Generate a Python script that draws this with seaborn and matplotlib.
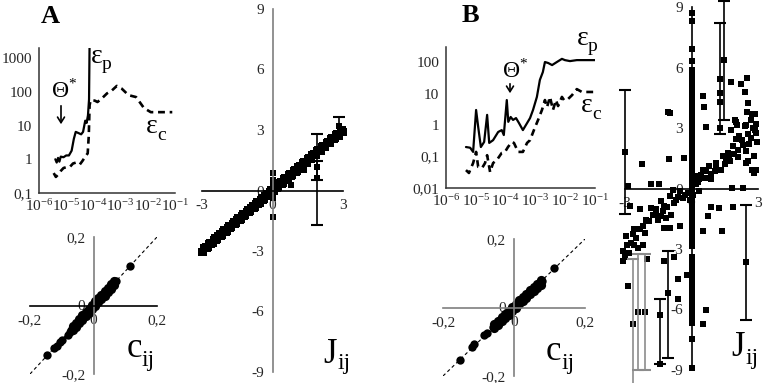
import numpy as np
import pandas as pd
import matplotlib
matplotlib.use("Agg")
import matplotlib.pyplot as plt
from matplotlib import font_manager as fm
import seaborn as sns

W, H = 763, 383

# ---------------- data ----------------
# Panel A, top: reconstruction errors vs threshold (log10 of threshold)
epA_logx = [-5.40, -5.35, -5.30, -5.25, -5.20, -5.10, -5.00, -4.90, -4.80, -4.72,
            -4.65, -4.55, -4.45, -4.38, -4.30, -4.25, -4.20, -4.16, -4.14]
epA = [1.0, 0.8, 1.1, 0.85, 1.2, 1.15, 1.3, 1.3, 1.8, 4.0,
       6.5, 6.0, 5.5, 6.5, 14, 12, 20, 60, 3000]
ecA_logx = [-5.46, -5.38, -5.30, -5.20, -5.10, -4.95, -4.86, -4.75, -4.64, -4.50,
            -4.40, -4.30, -4.21, -4.17, -4.14, -4.10, -3.95, -3.85, -3.68, -3.50,
            -3.32, -3.14, -2.96, -2.71, -2.43, -2.14, -1.89, -1.54, -1.10]
ecA = [0.39, 0.30, 0.35, 0.45, 0.55, 0.6, 0.6, 0.75, 0.8, 0.7,
       0.9, 1.2, 1.5, 5, 40, 57, 55, 50, 65, 90,
       110, 150, 125, 80, 70, 33, 25, 25, 25]

# Panel B, top
epB_logx = [-5.33, -5.19, -5.09, -4.99, -4.92, -4.83, -4.72, -4.62, -4.55, -4.42,
            -4.25, -4.13, -4.06, -3.96, -3.91, -3.83, -3.75, -3.65, -3.55, -3.42,
            -3.28, -3.18, -3.08, -2.95, -2.85, -2.75, -2.68, -2.57, -2.44, -2.28,
            -2.11, -2.01, -1.84, -1.61, -1.34, -1.00]
epB = [0.20, 0.19, 0.14, 3.0, 0.87, 0.20, 0.29, 2.1, 0.27, 0.33,
       0.60, 0.69, 0.48, 6.2, 1.26, 1.8, 1.45, 1.66, 1.15, 0.69,
       1.15, 1.66, 3.0, 7.8, 27, 48, 100, 93, 80, 100,
       126, 115, 107, 115, 115, 115]
ecB_logx = [-5.33, -5.23, -5.09, -4.99, -4.92, -4.79, -4.69, -4.62, -4.52, -4.42,
            -4.29, -4.13, -4.02, -3.92, -3.79, -3.72, -3.58, -3.42, -3.28, -3.18,
            -3.05, -2.91, -2.78, -2.68, -2.61, -2.51, -2.41, -2.31, -2.24, -2.11,
            -2.04, -1.94, -1.77, -1.61, -1.44, -1.27, -1.00]
ecB = [0.037, 0.030, 0.062, 0.14, 0.047, 0.043, 0.062, 0.11, 0.032, 0.062,
       0.078, 0.13, 0.14, 0.20, 0.29, 0.27, 0.14, 0.14, 0.27, 0.33,
       0.69, 1.45, 3.0, 6.2, 3.7, 7.8, 3.0, 6.2, 4.0, 7.8,
       6.2, 6.2, 8.9, 13.8, 11.2, 11.2, 11.2]

# Panel A, J_ij scatter (inferred vs true couplings)
jA_x = [-3.0, -2.9, -2.8, -2.7, -2.6, -2.5, -2.4, -2.3, -2.2, -2.1,
        -2.0, -1.9, -1.8, -1.7, -1.6, -1.5, -1.4, -1.3, -1.2, -1.1,
        -1.0, -0.9, -0.8, -0.7, -0.6, -0.5, -0.4, -0.3, -0.2, -0.1,
        0.0, 0.1, 0.2, 0.3, 0.4, 0.5, 0.6, 0.7, 0.8, 0.9,
        1.0, 1.1, 1.2, 1.3, 1.4, 1.5, 1.6, 1.7, 1.8, 1.9,
        2.0, 2.1, 2.2, 2.3, 2.4, 2.5, 2.6, 2.7, 2.8, 2.9,
        3.0]
jA_y = [-3.05, -2.86, -2.85, -2.66, -2.65, -2.45, -2.46, -2.25, -2.26, -2.05,
        -2.06, -1.85, -1.86, -1.65, -1.66, -1.45, -1.46, -1.25, -1.26, -1.05,
        -1.06, -0.85, -0.86, -0.65, -0.66, -0.45, -0.46, -0.25, -0.26, -0.05,
        0.04, 0.15, 0.14, 0.35, 0.34, 0.55, 0.54, 0.75, 0.74, 0.95,
        0.94, 1.15, 1.14, 1.35, 1.34, 1.55, 1.54, 1.75, 1.74, 1.95,
        1.94, 2.15, 2.14, 2.35, 2.34, 2.55, 2.54, 2.75, 2.74, 2.95,
        2.92]
jA2_x = [-2.95, -2.85, -2.75, -2.65, -2.55, -2.45, -2.35, -2.25, -2.15, -2.05,
         -1.95, -1.85, -1.75, -1.65, -1.55, -1.45, -1.35, -1.25, -1.15, -1.05,
         -0.95, -0.85, -0.75, -0.65, -0.55, -0.45, -0.35, -0.25, -0.15, -0.05,
         0.05, 0.15, 0.25, 0.35, 0.45, 0.55, 0.65, 0.75, 0.85, 0.95,
         1.05, 1.15, 1.25, 1.35, 1.45, 1.55, 1.65, 1.75, 1.85, 1.95,
         2.05, 2.15, 2.25, 2.35, 2.45, 2.55, 2.65, 2.75, 2.85, 2.95]
jA2_y = [-3.03, -2.80, -2.82, -2.59, -2.62, -2.38, -2.42, -2.18, -2.22, -1.98,
         -2.02, -1.78, -1.82, -1.58, -1.62, -1.38, -1.42, -1.18, -1.22, -0.98,
         -1.02, -0.78, -0.82, -0.58, -0.62, -0.38, -0.42, -0.18, -0.22, 0.02,
         -0.02, 0.22, 0.18, 0.42, 0.38, 0.62, 0.58, 0.82, 0.78, 1.02,
         0.98, 1.22, 1.18, 1.42, 1.38, 1.62, 1.58, 1.82, 1.78, 2.02,
         1.98, 2.22, 2.18, 2.42, 2.38, 2.62, 2.58, 2.82, 2.78, 2.98]
jA_out_x = [0.0, 0.0, 0.0, 0.0, 0.0, 0.79, 1.33, 1.9, 1.9, 2.82, 3.03, 2.87]
jA_out_y = [0.86, 0.53, 0.3, -0.35, -1.32, 0.28, 1.02, 1.16, 0.63, 3.22, 2.94, 2.64]
jA_err_x = [1.9, 1.9, 2.82]
jA_err_y = [0.63, 1.16, 3.22]
jA_err_lo = [-1.7, 0.53, 2.8]
jA_err_hi = [2.78, 1.45, 3.64]

# Panel A, c_ij scatter
cA_x = [-0.075, -0.07, -0.065, -0.06, -0.055, -0.05, -0.045, -0.04, -0.035, -0.03,
        -0.025, -0.02, -0.015, -0.01, -0.005, 0.0, 0.005, 0.01, 0.015, 0.02,
        0.025, 0.03, 0.035, 0.04, 0.045, 0.05, 0.055, 0.06, 0.065, 0.07,
        0.114, -0.08, -0.098, -0.106, -0.116, -0.125, -0.146]
cA_y = [-0.078, -0.072, -0.068, -0.062, -0.057, -0.052, -0.047, -0.041, -0.036, -0.031,
        -0.026, -0.021, -0.016, -0.010, -0.005, 0.0, 0.005, 0.011, 0.016, 0.021,
        0.026, 0.032, 0.037, 0.042, 0.047, 0.052, 0.057, 0.062, 0.067, 0.072,
        0.115, -0.085, -0.100, -0.106, -0.117, -0.125, -0.144]
cA_band_x = [-0.065, -0.055, -0.045, -0.035, -0.025, -0.015, -0.005,
             0.005, 0.015, 0.025, 0.035, 0.045, 0.055, 0.065]
cA_band_hi = [-0.060, -0.050, -0.040, -0.029, -0.019, -0.009, 0.002,
              0.012, 0.022, 0.032, 0.042, 0.052, 0.062, 0.071]
cA_band_lo = [-0.072, -0.062, -0.052, -0.041, -0.031, -0.021, -0.011,
              -0.001, 0.009, 0.019, 0.029, 0.039, 0.049, 0.059]

# Panel B, c_ij scatter
cB_x = [-0.06, -0.055, -0.05, -0.045, -0.04, -0.035, -0.03, -0.025, -0.02, -0.015,
        -0.01, -0.005, 0.0, 0.005, 0.01, 0.015, 0.02, 0.025, 0.03, 0.035,
        0.04, 0.045, 0.05, 0.055, 0.06, 0.065, 0.07, 0.075, 0.08,
        0.113, -0.076, -0.085, -0.112, -0.118, -0.152]
cB_y = [-0.056, -0.052, -0.047, -0.043, -0.038, -0.033, -0.028, -0.024, -0.019, -0.014,
        -0.009, -0.005, 0.0, 0.005, 0.010, 0.015, 0.019, 0.024, 0.029, 0.034,
        0.039, 0.044, 0.049, 0.054, 0.058, 0.063, 0.068, 0.073, 0.078,
        0.114, -0.074, -0.081, -0.108, -0.114, -0.152]
cB_band_x = [-0.055, -0.045, -0.035, -0.025, -0.015, -0.005, 0.005,
             0.015, 0.025, 0.035, 0.045, 0.055, 0.065, 0.075]
cB_band_hi = [-0.047, -0.038, -0.028, -0.018, -0.009, 0.001, 0.011,
              0.021, 0.030, 0.040, 0.050, 0.059, 0.069, 0.079]
cB_band_lo = [-0.059, -0.050, -0.040, -0.030, -0.021, -0.011, -0.001,
              0.009, 0.018, 0.028, 0.038, 0.047, 0.057, 0.067]

# Panel B, J_ij scatter
jB_x = [-1.08, -0.95, 0.5, 0.55, 0.66, 1.8, 2.25, 2.5, 2.4, 2.57,
        2.5, 2.75, 2.88, 2.7, 1.98, 2.43, 2.07, 2.93, 1.3, 1.3,
        1.3, 1.45, -3.0, -2.24, -1.02, -0.32, 1.3, 1.79, 2.0, 2.46,
        2.76, 2.91, 2.16, 2.54, 2.0, 1.86, 2.31, 1.64, 2.46, 1.41,
        1.11, 1.56, 1.34, 1.04, 0.89, 0.66, 0.81, 0.44, 0.36, 0.21,
        2.54, 2.73, 2.84, 2.46, 1.83, 2.34, -2.87, -1.82, -1.47, -0.84,
        -0.54, -0.39, -0.69, -0.99, -1.37, -1.22, -1.59, -1.82, -1.74, -1.52,
        -1.37, -1.14, -0.92, -0.54, -1.22, -0.99, -2.04, -2.19, -2.34, -2.64,
        -2.94, -2.49, -2.72, -2.19, -2.42, -2.79, -2.34, 0.89, 1.26, 1.86,
        0.74, 0.51, 1.38, 0.36, 0.06, -0.09, -0.17, 0.14, 0.21, 0.51,
        -0.3, -0.6, -0.8, -1.1, -1.3, -1.6, -1.9, -2.1, -2.6, -2.9,
        -3.1, -3.0, -2.8, -3.1, -2.6, 0.3, 0.6, 0.9, 1.1, 1.5,
        1.7, 1.9, 2.1, 2.3, 2.6, 2.7, 2.85, 2.95, 2.8, 2.9,
        2.1, 1.75, -2.87, -1.22, -0.81, -0.62, -0.62, -0.21, 0.66, 0.54,
        -2.0, -2.64, -2.42, -2.12, -1.40, -1.40, -1.07, 2.48]
jB_y = [3.8, 3.75, 4.6, 4.05, 3.07, 5.3, 5.2, 5.5, 4.8, 4.25,
        3.8, 3.7, 3.67, 3.4, 3.4, 3.1, 3.17, 3.2, 5.45, 4.75,
        4.3, 6.35, 1.82, 1.22, 1.44, 1.49, 3.0, 2.9, 3.3, 3.17,
        3.0, 2.76, 2.6, 2.68, 2.43, 2.1, 2.18, 1.77, 1.85, 1.6,
        1.27, 1.36, 0.94, 0.86, 0.45, 0.86, 1.1, 0.69, 0.45, 0.2,
        1.36, 0.94, 0.78, 1.27, 0.03, 0.03, 0.12, 0.2, 0.23, -0.05,
        -0.13, -0.46, -0.55, -0.38, -0.63, -0.88, -1.04, -0.96, -1.29, -1.54,
        -1.37, -1.45, -1.29, -1.87, -1.95, -1.95, -1.54, -1.87, -2.03, -2.28,
        -2.36, -2.45, -2.69, -2.78, -2.94, -0.88, -1.0, -0.91, -0.96, -0.91,
        -1.37, -2.12, -2.12, -0.13, -0.3, -0.55, -0.21, 0.36, 0.61, 0.94,
        -0.3, -0.4, -0.7, -0.9, -1.1, -1.3, -1.6, -2.2, -2.0, -2.8,
        -3.1, -3.4, -3.2, -3.6, -2.8, 0.3, 0.5, 0.7, 1.0, 1.2,
        1.5, 1.7, 1.9, 2.4, 2.2, 2.5, 2.9, 2.3, 1.6, 0.9,
        1.55, 1.35, -4.84, -3.6, -3.39, -4.48, -5.5, -4.27, -6.0, -6.74,
        -3.52, -6.71, -6.13, -6.13, -6.25, -8.68, -5.2, -3.65]
jB_col_y = [8.7, 8.3, 6.9, 6.3, 5.9, 5.65, 5.4, 5.15, 4.9, 4.65,
            4.4, 4.15, 3.9, 3.65, 3.4, 3.15, 2.9, 2.65, 2.4, 2.15,
            1.9, 1.65, 1.4, 1.15, 0.9, 0.65, 0.4, 0.15, -0.1, -0.35,
            -0.6, -0.85, -1.1, -1.35, -1.6, -1.85, -2.1, -2.35, -2.6, -2.85,
            -3.4, -3.65, -3.9, -4.15, -4.4, -4.65, -4.9, -5.15, -5.4, -5.65,
            -5.9, -6.15, -6.4, -6.65, -7.48, -8.88]
jB_err_x = [-3.0, 1.30, 1.45, 2.48, -2.64, -2.42, -2.12, -1.40, -1.07]
jB_err_y = [1.82, 5.45, 6.35, -3.65, -6.71, -6.13, -6.13, -6.25, -5.2]
jB_err_lo = [-1.26, 2.7, 3.4, -6.5, -9.9, -9.0, -9.0, -8.7, -8.4]
jB_err_hi = [4.9, 8.2, 9.3, -0.8, -3.52, -3.27, -3.27, -5.5, -3.11]
jB_err_col = ["black", "black", "black", "black", "#8c8c8c", "#8c8c8c", "#8c8c8c", "black", "black"]

diag = [-0.2, 0.2]

# ---------------- style ----------------
sns.set_theme(style="white")
_names = {f.name for f in fm.fontManager.ttflist}
_serif = next((n for n in ["Liberation Serif", "Times New Roman", "Nimbus Roman",
                           "DejaVu Serif"] if n in _names), "serif")
SERIF = [_serif, "DejaVu Serif"]
plt.rcParams["font.family"] = SERIF
plt.rcParams["font.serif"] = SERIF
plt.rcParams["mathtext.fontset"] = "custom"
plt.rcParams["mathtext.rm"] = _serif
plt.rcParams["mathtext.it"] = _serif + ":italic"
plt.rcParams["mathtext.bf"] = _serif + ":bold"
plt.rcParams["axes.unicode_minus"] = False

fig = plt.figure(figsize=(W / 100, H / 100), dpi=100)
GRAY = "#7f7f7f"
TL = 11


def add_ax(l, t, r, b):
    ax = fig.add_axes([l / W, 1 - b / H, (r - l) / W, (b - t) / H])
    ax.patch.set_alpha(0)
    return ax


def ftext(x, y, s, **kw):
    kw.setdefault("color", "black")
    kw.setdefault("family", SERIF)
    fig.text(x / W, 1 - y / H, s, **kw)


def style_ticklabels(ax):
    for lab in ax.get_xticklabels() + ax.get_yticklabels():
        lab.set_family(SERIF)


def top_panel(box, ep_lx, ep, ec_lx, ec, ylim, yticks, ylabels):
    ax = add_ax(*box)
    ax.set_xscale("log")
    ax.set_yscale("log")
    dfp = pd.DataFrame({"x": np.power(10.0, ep_lx), "y": ep})
    dfc = pd.DataFrame({"x": np.power(10.0, ec_lx), "y": ec})
    sns.lineplot(data=dfp, x="x", y="y", ax=ax, color="black", lw=1.6,
                 errorbar=None, sort=False)
    sns.lineplot(data=dfc, x="x", y="y", ax=ax, color="black", lw=1.9,
                 linestyle=(0, (2.6, 1.8)), errorbar=None, sort=False)
    ax.set_xlim(1e-6, 1e-1)
    ax.set_ylim(*ylim)
    ax.minorticks_off()
    ax.set_xticks([1e-6, 1e-5, 1e-4, 1e-3, 1e-2, 1e-1])
    ax.set_xticklabels([r"$10^{-6}$", r"$10^{-5}$", r"$10^{-4}$",
                        r"$10^{-3}$", r"$10^{-2}$", r"$10^{-1}$"])
    ax.set_yticks(yticks)
    ax.set_yticklabels(ylabels)
    for s in ("top", "right"):
        ax.spines[s].set_visible(False)
    for s in ("left", "bottom"):
        ax.spines[s].set_color("#333333")
        ax.spines[s].set_linewidth(1.1)
    ax.tick_params(axis="x", direction="in", length=5, width=1, labelsize=TL, pad=4,
                   color="#333333")
    ax.tick_params(axis="y", direction="out", length=4, width=1, labelsize=TL, pad=1,
                   color="#333333")
    ax.set_xlabel("")
    ax.set_ylabel("")
    style_ticklabels(ax)
    return ax


def cross_axes(box, lim, ticks, labels, vcol, hcol):
    ax = add_ax(*box)
    ax.set_xlim(-lim[0], lim[0])
    ax.set_ylim(-lim[1], lim[1])
    for s in ("top", "right"):
        ax.spines[s].set_visible(False)
    ax.spines["left"].set_position(("data", 0))
    ax.spines["bottom"].set_position(("data", 0))
    ax.spines["left"].set_color(vcol)
    ax.spines["bottom"].set_color(hcol)
    ax.spines["left"].set_linewidth(1.2)
    ax.spines["bottom"].set_linewidth(1.2)
    ax.set_xticks(ticks[0])
    ax.set_xticklabels(labels[0])
    ax.set_yticks(ticks[1])
    ax.set_yticklabels(labels[1])
    ax.tick_params(axis="x", direction="inout", length=10, width=1.2, labelsize=TL,
                   pad=1, color=hcol)
    ax.tick_params(axis="y", direction="inout", length=10, width=1.2, labelsize=TL,
                   pad=1, color=vcol)
    for t, v in zip(ax.xaxis.get_major_ticks(), ticks[0]):
        if v == 0:
            t.tick1line.set_visible(False)
    for t, v in zip(ax.yaxis.get_major_ticks(), ticks[1]):
        if v == 0:
            t.tick1line.set_visible(False)
    ax.set_xlabel("")
    ax.set_ylabel("")
    style_ticklabels(ax)
    return ax


def dots(ax, x, y, marker, s):
    sns.scatterplot(x=x, y=y, ax=ax, marker=marker, s=s, color="black",
                    linewidth=0, clip_on=False)
    ax.set_xlabel("")
    ax.set_ylabel("")


# ---------------- Panel A ----------------
axA = top_panel((39, 48, 175, 193), epA_logx, epA, ecA_logx, ecA, (0.1, 2000),
                [0.1, 1, 10, 100, 1000], ["0,1", "1", "10", "100", "1000"])

axJA = cross_axes((202, 9, 343, 372), (3, 9),
                  ([-3, 0, 3], [-9, -6, -3, 0, 3, 6, 9]),
                  (["-3", "0", "3"], ["-9", "-6", "-3", "0", "3", "6", "9"]),
                  GRAY, "black")
for ex, ey, lo, hi in zip(jA_err_x, jA_err_y, jA_err_lo, jA_err_hi):
    axJA.errorbar([ex], [ey], yerr=[[ey - lo], [hi - ey]], fmt="none", ecolor="black",
                  elinewidth=1.2, capsize=4.5, capthick=1.5, clip_on=False)
dots(axJA, jA_x, jA_y, "s", 32)
dots(axJA, jA2_x, jA2_y, "s", 32)
dots(axJA, jA_out_x, jA_out_y, "s", 22)

axCA = cross_axes((30, 237, 157, 374), (0.2, 0.2),
                  ([-0.2, 0, 0.2], [-0.2, 0, 0.2]),
                  (["-0,2", "0", "0,2"], ["-0,2", "0", "0,2"]),
                  GRAY, "black")
sns.lineplot(x=diag, y=diag, ax=axCA, color="black", lw=0.8,
             linestyle=(0, (3, 2.5)), errorbar=None)
dots(axCA, cA_x, cA_y, "o", 36)
dots(axCA, cA_band_x, cA_band_hi, "o", 44)
dots(axCA, cA_band_x, cA_band_lo, "o", 44)

# ---------------- Panel B ----------------
axB = top_panel((446, 47, 595, 188), epB_logx, epB, ecB_logx, ecB, (0.01, 300),
                [0.01, 0.1, 1, 10, 100], ["0,01", "0,1", "1", "10", "100"])

axJB = cross_axes((625, 7, 758, 370), (3, 9),
                  ([-3, 0, 3], [-9, -6, -3, 0, 3, 6, 9]),
                  (["-3", "0", "3"], ["-9", "-6", "-3", "0", "3", "6", "9"]),
                  "black", "black")
axJB.tick_params(axis="y", color=GRAY)
for ex, ey, lo, hi, c in zip(jB_err_x, jB_err_y, jB_err_lo, jB_err_hi, jB_err_col):
    axJB.errorbar([ex], [ey], yerr=[[ey - lo], [hi - ey]], fmt="none", ecolor=c,
                  elinewidth=1.2, capsize=4.5, capthick=1.5, clip_on=False)
dots(axJB, jB_x, jB_y, "s", 22)
colB = pd.DataFrame({"x": 0.0, "y": jB_col_y})
sns.scatterplot(data=colB, x="x", y="y", ax=axJB, marker="s", s=24, color="black",
                linewidth=0, clip_on=False)
axJB.set_xlabel("")
axJB.set_ylabel("")

axCB = cross_axes((443, 239, 585, 376), (0.2, 0.2),
                  ([-0.2, 0, 0.2], [-0.2, 0, 0.2]),
                  (["-0,2", "0", "0,2"], ["-0,2", "0", "0,2"]),
                  GRAY, GRAY)
sns.lineplot(x=diag, y=diag, ax=axCB, color="black", lw=0.8,
             linestyle=(0, (3, 2.5)), errorbar=None)
dots(axCB, cB_x, cB_y, "o", 36)
dots(axCB, cB_band_x, cB_band_hi, "o", 44)
dots(axCB, cB_band_x, cB_band_lo, "o", 44)

# ---------------- annotations ----------------
ftext(50, 23, "A", fontsize=19, fontweight="bold", ha="center", va="baseline")
ftext(470, 22, "B", fontsize=19, fontweight="bold", ha="center", va="baseline")

# epsilon labels
ftext(91, 63, "ε", fontsize=20, va="baseline")
ftext(102, 69, "p", fontsize=14, va="baseline")
ftext(146, 133, "ε", fontsize=20, va="baseline")
ftext(157, 140, "c", fontsize=14, va="baseline")
ftext(577, 45, "ε", fontsize=20, va="baseline")
ftext(588, 51, "p", fontsize=14, va="baseline")
ftext(581, 112, "ε", fontsize=20, va="baseline")
ftext(592, 119, "c", fontsize=14, va="baseline")

# Theta* and arrows
ftext(52, 97, "Θ", fontsize=17, va="baseline")
ftext(68, 88, "*", fontsize=11, va="baseline")
fig.add_artist(matplotlib.patches.FancyArrowPatch(
    (61 / W, 1 - 103 / H), (61 / W, 1 - 127 / H), transform=fig.transFigure,
    arrowstyle="->,head_length=4,head_width=2.5", lw=1.2, color="black"))
ftext(503, 77, "Θ", fontsize=17, va="baseline")
ftext(519, 68, "*", fontsize=11, va="baseline")
fig.add_artist(matplotlib.patches.FancyArrowPatch(
    (510 / W, 1 - 81 / H), (510 / W, 1 - 96 / H), transform=fig.transFigure,
    arrowstyle="->,head_length=4,head_width=2.5", lw=1.2, color="black"))

# c_ij and J_ij
ftext(127, 357, "c", fontsize=25, va="baseline")
ftext(142, 366, "ij", fontsize=17, va="baseline")
ftext(323, 363, "J", fontsize=25, va="baseline")
ftext(337, 369, "ij", fontsize=17, va="baseline")
ftext(546, 360, "c", fontsize=25, va="baseline")
ftext(561, 369, "ij", fontsize=17, va="baseline")
ftext(731, 356, "J", fontsize=25, va="baseline")
ftext(745, 364, "ij", fontsize=17, va="baseline")

fig.savefig("out.png", dpi=100)
